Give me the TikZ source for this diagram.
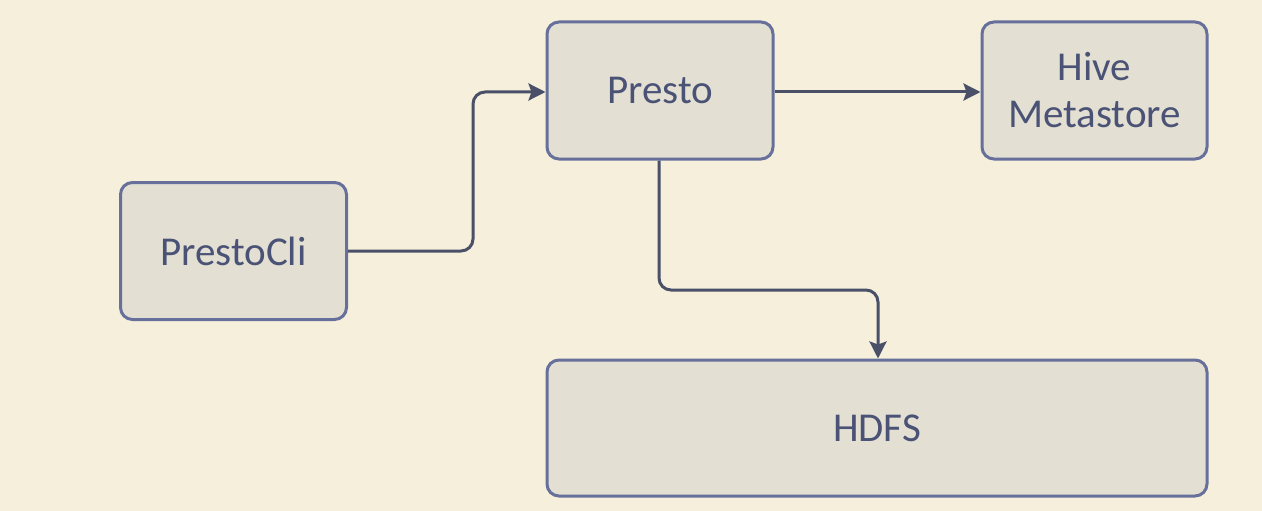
\documentclass[tikz,border=0pt]{standalone}
\usepackage{fontspec}
\setmainfont{Carlito}
\usetikzlibrary{arrows.meta}
\definecolor{bgc}{HTML}{F5EFDC}
\definecolor{boxfill}{HTML}{E3DFD3}
\definecolor{boxline}{HTML}{66709A}
\definecolor{txt}{HTML}{4A5275}
\definecolor{conn}{HTML}{4A5068}
\tikzset{
  blk/.style={draw=boxline, fill=boxfill, line width=3pt, rounded corners=12pt, inner sep=0pt,
    text=txt, font=\fontsize{41}{47}\selectfont, align=center},
  link/.style={draw=conn, line width=3pt, rounded corners=12pt, -{Stealth[length=17pt,width=17pt,inset=3pt]}}
}
\begin{document}
\begin{tikzpicture}[x=1pt,y=-1pt]
\fill[bgc] (0,0) rectangle (1262,511);
\useasboundingbox (0,0) rectangle (1262,511);
\node[blk, minimum width=226pt, minimum height=137pt] (cli) at (233.5,251) {PrestoCli};
\node[blk, minimum width=226pt, minimum height=137pt] (presto) at (660,90.5) {Presto};
\node[blk, minimum width=225pt, minimum height=137pt] (hive) at (1094.5,90.5) {Hive\\Metastore};
\node[blk, minimum width=660pt, minimum height=136pt] (hdfs) at (877,428) {HDFS};
\coordinate (c1) at (473,251);
\coordinate (c2) at (473,92);
\coordinate (d1) at (659,290);
\coordinate (d2) at (878,290);
\draw[link] (cli.east |- c1) -- (c1) -- (c2) -- (presto.west |- c2);
\draw[link] (presto.east |- c2) -- (hive.west |- c2);
\draw[link] (presto.south -| d1) -- (d1) -- (d2) -- (hdfs.north -| d2);
\end{tikzpicture}
\end{document}
